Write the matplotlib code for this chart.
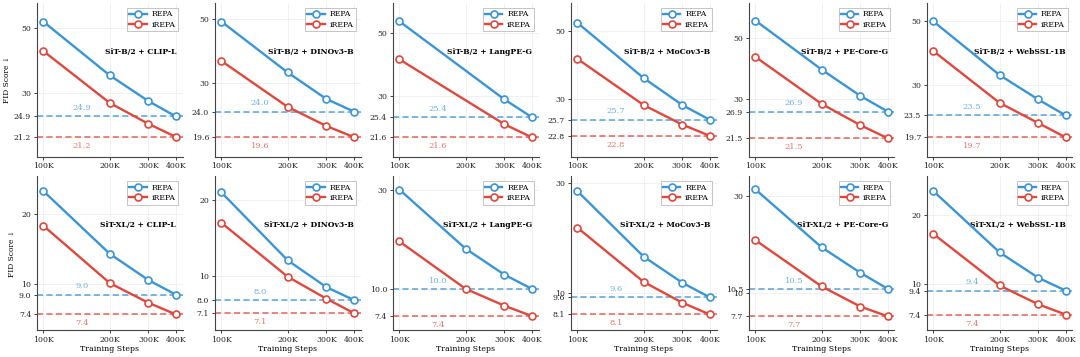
import numpy as np
import matplotlib.pyplot as plt
from matplotlib.ticker import FixedLocator, FixedFormatter, NullLocator

steps = np.array([100e3, 200e3, 300e3, 400e3])
step_labels = ['100K', '200K', '300K', '400K']

titles = [
    'SiT-B/2 + CLIP-L', 'SiT-B/2 + DINOv3-B', 'SiT-B/2 + LangPE-G',
    'SiT-B/2 + MoCov3-B', 'SiT-B/2 + PE-Core-G', 'SiT-B/2 + WebSSL-1B',
    'SiT-XL/2 + CLIP-L', 'SiT-XL/2 + DINOv3-B', 'SiT-XL/2 + LangPE-G',
    'SiT-XL/2 + MoCov3-B', 'SiT-XL/2 + PE-Core-G', 'SiT-XL/2 + WebSSL-1B',
]

# FID (nan = no point at that step)
repa = [
    [52.4, 34.4, 28.1, 24.9],
    [48.9, 32.7, 26.5, 24.0],
    [54.8, np.nan, 29.3, 25.4],
    [53.0, 35.1, 28.7, 25.7],
    [57.8, 38.3, 30.7, 26.9],
    [50.0, 32.5, 26.7, 23.5],
    [25.1, 13.5, 10.4, 9.0],
    [21.4, 11.5, 9.0, 8.0],
    [30.0, 15.6, 11.7, 10.0],
    [27.6, 14.4, 11.1, 9.6],
    [32.3, 16.8, 12.6, 10.5],
    [25.5, 13.8, 10.7, 9.4],
]
irepa = [
    [41.6, 27.7, 23.5, 21.2],
    [35.8, 24.9, 21.4, 19.6],
    [40.4, np.nan, 24.0, 21.6],
    [40.5, 28.7, 24.8, 22.8],
    [42.6, 28.7, 24.0, 21.5],
    [39.4, 26.0, 22.1, 19.7],
    [17.8, 10.1, 8.3, 7.4],
    [16.2, 9.9, 8.1, 7.1],
    [16.9, 10.0, 8.3, 7.4],
    [19.2, 11.2, 9.1, 8.1],
    [18.2, 10.8, 8.6, 7.7],
    [16.6, 9.9, 8.2, 7.4],
]

base_ticks = [
    [30, 50], [30, 50], [30, 50], [30, 50], [30, 50], [30, 50],
    [10, 20], [10, 20], [30], [10, 30], [10, 30], [10, 20],
]

blue = '#3b95d4'
red = '#e0483d'

plt.rcParams['font.family'] = 'DejaVu Serif'
plt.rcParams['font.size'] = 5.5

fig, axes = plt.subplots(2, 6, figsize=(10.8, 3.57), dpi=100)
fig.subplots_adjust(left=0.034, right=0.993, top=0.992, bottom=0.075,
                    wspace=0.22, hspace=0.125)

for i, ax in enumerate(axes.flat):
    r = np.array(repa[i], dtype=float)
    ir = np.array(irepa[i], dtype=float)
    mr = ~np.isnan(r)
    mi = ~np.isnan(ir)

    ax.set_xscale('log')
    ax.set_yscale('log')

    ax.plot(steps[mr], r[mr], '-o', color=blue, lw=1.7, ms=5, mfc='white',
            mec=blue, mew=1.2, label='REPA', zorder=4)
    ax.plot(steps[mi], ir[mi], '-o', color=red, lw=1.7, ms=5, mfc='white',
            mec=red, mew=1.2, label='iREPA', zorder=4)

    fr, fi = r[-1], ir[-1]
    ax.axhline(fr, color=blue, ls=(0, (4, 2.2)), lw=1.1, alpha=0.85, zorder=2)
    ax.axhline(fi, color=red, ls=(0, (4, 2.2)), lw=1.1, alpha=0.85, zorder=2)
    ax.annotate(f'{fr:.1f}', (1.5e5, fr), xytext=(0, 6), textcoords='offset points',
                ha='center', va='center', color=blue, alpha=0.75, fontsize=6)
    ax.annotate(f'{fi:.1f}', (1.5e5, fi), xytext=(0, -6.5), textcoords='offset points',
                ha='center', va='center', color=red, alpha=0.75, fontsize=6)

    ymin = np.nanmin(ir) / 1.17
    ymax = np.nanmax(r) * 1.16
    ax.set_ylim(ymin, ymax)
    ax.set_xlim(steps[0] / 1.073, steps[-1] * 1.073)

    yt = list(base_ticks[i]) + [fr, fi]
    yl = [str(t) for t in base_ticks[i]] + [f'{fr:.1f}', f'{fi:.1f}']
    ax.yaxis.set_major_locator(FixedLocator(yt))
    ax.yaxis.set_major_formatter(FixedFormatter(yl))
    ax.yaxis.set_minor_locator(NullLocator())
    ax.xaxis.set_major_locator(FixedLocator(steps))
    ax.xaxis.set_major_formatter(FixedFormatter(step_labels))
    ax.xaxis.set_minor_locator(NullLocator())
    ax.tick_params(labelsize=5.6, length=2, width=0.6, pad=2, colors='#222222')

    ax.grid(True, color='#ececec', lw=0.5)
    ax.set_axisbelow(True)
    for s in ['top', 'right']:
        ax.spines[s].set_visible(False)
    for s in ['left', 'bottom']:
        ax.spines[s].set_color('#444444')
        ax.spines[s].set_linewidth(0.8)

    ax.text(0.955, 0.68, titles[i], transform=ax.transAxes, ha='right',
            va='center', fontweight='bold', fontsize=5.5)

    leg = ax.legend(loc='upper right', fontsize=5.6, handlelength=2.2,
                    borderaxespad=0.6, framealpha=1, fancybox=False,
                    borderpad=0.35, labelspacing=0.3, handletextpad=0.6)
    leg.get_frame().set_edgecolor('#bbbbbb')
    leg.get_frame().set_linewidth(0.6)

    if i % 6 == 0:
        ax.set_ylabel('FID Score ↓', fontsize=5.4, labelpad=2)
    if i >= 6:
        ax.set_xlabel('Training Steps', fontsize=5.6, labelpad=1)

fig.savefig('out.png', dpi=100)
